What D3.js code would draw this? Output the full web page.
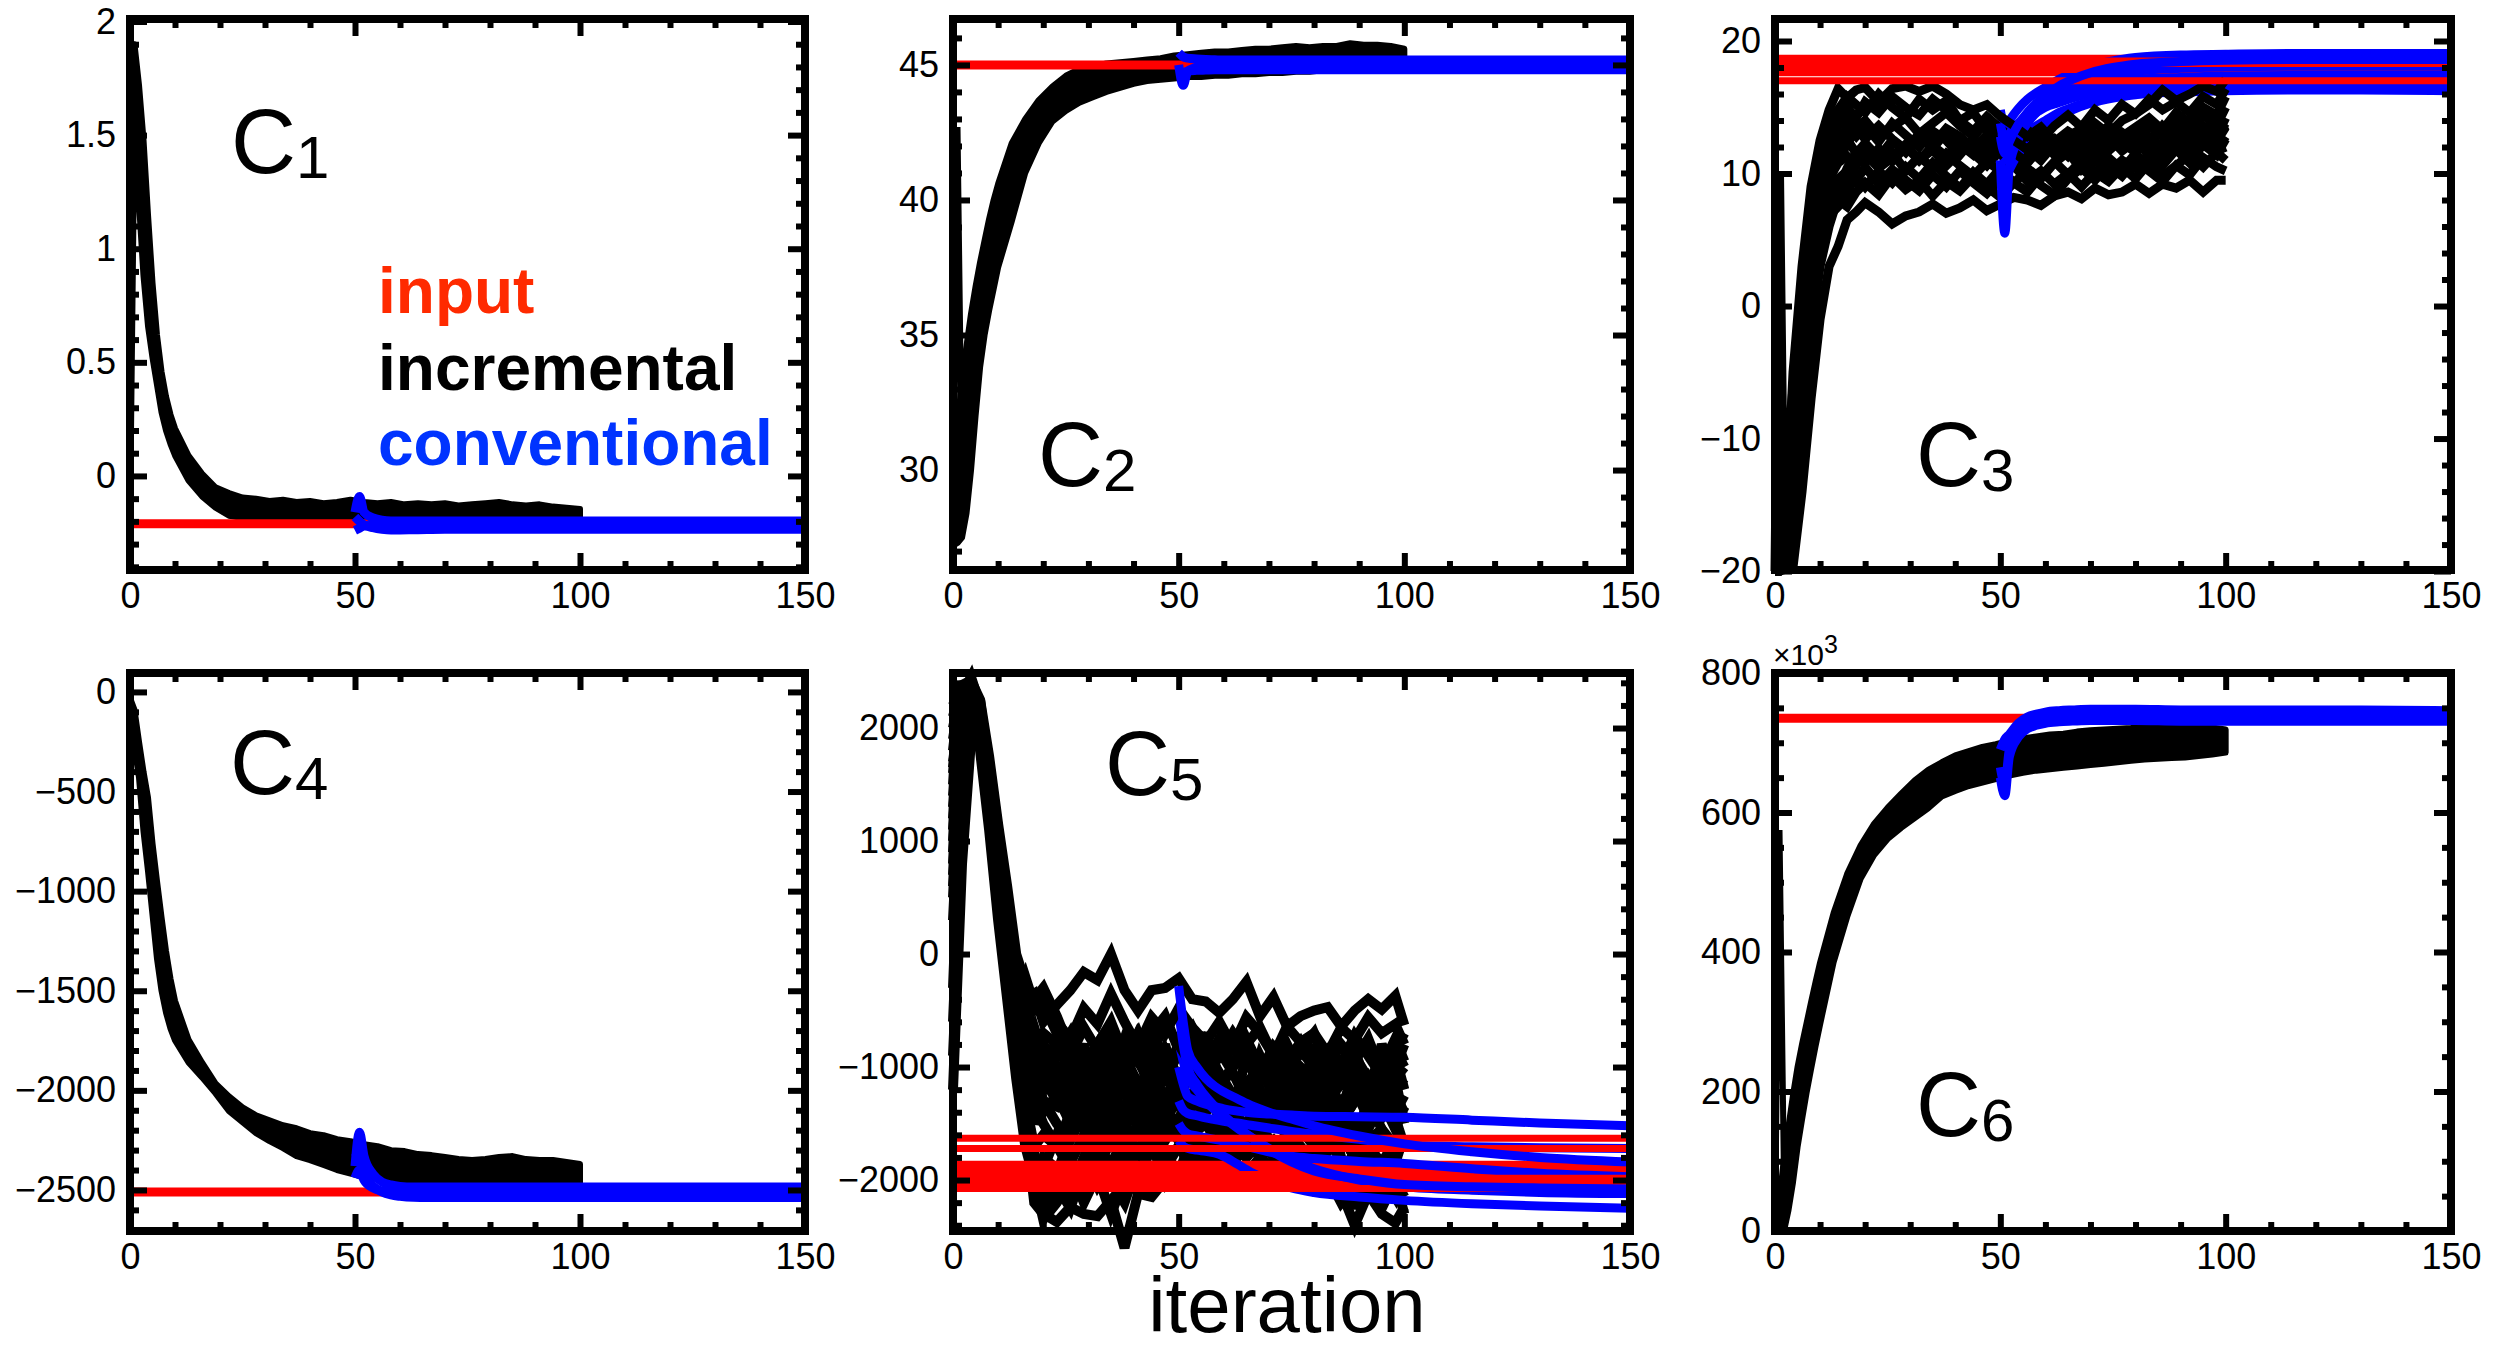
<!DOCTYPE html>
<html>
<head>
<meta charset="utf-8">
<script src="https://cdn.jsdelivr.net/npm/d3@7"></script>
<style>
  html, body { margin: 0; padding: 0; background: #fff; }
  svg { display: block; font-family: "Liberation Sans", Arial, Helvetica, sans-serif; }
</style>
</head>
<body>
<svg id="chart" width="2512" height="1350"></svg>
<script>
// ---------------- shared iteration grids ----------------
const ITER_BAND = [0,1,2,3,4,5,6,7,8,9,10,13,16,19,22,25,28,31,34,37,40,43,46,49,52,55,58,61,64,67,70,73,76,79,82,85,88,91,94,97,100];
const ITER_RUN  = [0,1,2,4,6,8,10,12,14,16,18,20,23,26,29,32,35,38,41,44,47,50,53,56,59,62,65,68,71,74,77,80,83,86,89,92,95,98,100];
const ITER_CONV = [50,51,52,54,56,58,60,63,66,70,75,80,90,100,115,130,150];
const ITER_START = [0,1,2];

const X_TICKS = [0,50,100,150];

// ---------------- C1 ----------------
const C1_INPUT = [-0.21];
const C1_INC_HI = [1.75,1.9,1.72,1.48,1.15,0.85,0.62,0.46,0.35,0.27,0.21,0.09,0.01,-0.05,-0.075,-0.095,-0.1,-0.11,-0.105,-0.115,-0.11,-0.12,-0.115,-0.105,-0.115,-0.12,-0.115,-0.125,-0.12,-0.125,-0.12,-0.13,-0.125,-0.12,-0.115,-0.125,-0.13,-0.125,-0.135,-0.14,-0.145];
const C1_INC_LO = [-0.2,1.55,1.2,0.88,0.66,0.52,0.4,0.28,0.2,0.14,0.09,-0.02,-0.09,-0.14,-0.175,-0.185,-0.19,-0.19,-0.195,-0.19,-0.19,-0.195,-0.19,-0.19,-0.195,-0.19,-0.19,-0.195,-0.19,-0.19,-0.19,-0.195,-0.19,-0.19,-0.19,-0.19,-0.195,-0.19,-0.19,-0.19,-0.185];
const C1_CONV = [
  [-0.16,-0.09,-0.16,-0.185,-0.195,-0.198,-0.198,-0.198,-0.198,-0.198,-0.198,-0.198,-0.198,-0.198,-0.198,-0.198,-0.198],
  [-0.18,-0.2,-0.215,-0.228,-0.235,-0.238,-0.238,-0.237,-0.236,-0.235,-0.235,-0.235,-0.235,-0.235,-0.235,-0.235,-0.235],
  [-0.24,-0.23,-0.22,-0.218,-0.216,-0.215,-0.215,-0.215,-0.215,-0.215,-0.215,-0.215,-0.215,-0.215,-0.215,-0.215,-0.215]
];
const C1_Y_TICKS = [0,0.5,1,1.5,2];

// ---------------- C2 ----------------
const C2_INPUT = [45.0];
const C2_START = [27.4,42.7,29.5];
const C2_INC_HI = [27.8,31.5,33.5,34.6,35.8,36.8,37.7,38.5,39.3,40.0,40.6,42.1,43.0,43.7,44.2,44.6,44.85,44.95,45.05,45.1,45.15,45.2,45.25,45.35,45.4,45.45,45.5,45.5,45.55,45.6,45.6,45.65,45.7,45.65,45.7,45.7,45.8,45.75,45.75,45.7,45.6];
const C2_INC_LO = [27.2,27.3,27.5,28.4,30.0,32.0,33.8,35.0,35.9,36.7,37.5,39.2,41.0,42.1,42.9,43.3,43.6,43.8,44.0,44.15,44.3,44.4,44.45,44.5,44.55,44.55,44.6,44.6,44.65,44.65,44.7,44.7,44.75,44.75,44.8,44.8,44.85,44.85,44.85,44.9,44.9];
const C2_CONV = [
  [45.45,45.3,45.25,45.22,45.2,45.19,45.18,45.18,45.18,45.18,45.18,45.18,45.18,45.18,45.18,45.18,45.18],
  [45.0,44.25,44.75,44.92,44.98,45.0,45.0,45.0,45.0,45.0,45.0,45.0,45.0,45.0,45.0,45.0,45.0],
  [44.6,44.7,44.78,44.8,44.81,44.82,44.82,44.82,44.82,44.82,44.82,44.82,44.82,44.82,44.82,44.82,44.82]
];
const C2_Y_TICKS = [30,35,40,45];

// ---------------- C3 ----------------
const C3_INPUT = [18.7,18.1,17.6,18.5,17.85,18.3,17.0];
const C3_RUNS = [
  [-20,-20,-19.8,-17,-9,-2,3,6,8.2,9.5,10.8,11.5,10.4,11.2,12.2,11.0,11.8,10.6,11.6,12.4,11.3,12.0,10.8,11.6,12.5,11.4,12.2,11.0,12.0,12.8,11.7,12.5,11.4,12.3,13.1,12.1,13.0,12.4,13.5],
  [-20,-19.9,-18.8,-12,-4,3,7,9.5,11,12.2,13.4,12.6,13.6,12.6,11.8,13.0,12.2,13.4,12.8,11.9,12.9,12.2,13.3,12.4,11.5,12.6,11.8,12.9,12.1,13.2,12.3,11.6,12.8,12.0,13.2,12.5,13.5,12.9,13.8],
  [-20,-20,-19.9,-19.7,-14,-7,-1,3,4.5,6.5,7.1,7.8,7.1,6.2,6.8,7.1,7.7,7.0,7.4,8.0,7.2,7.7,8.2,8.0,7.6,8.3,8.6,8.1,8.9,8.4,8.6,9.2,8.5,9.2,8.9,9.5,8.6,9.5,9.5],
  [-20,-20,-19.5,-13,-4,3,7,8.8,8.0,7.5,8.6,9.3,8.4,9.8,8.8,9.5,8.3,9.4,8.7,9.8,9.0,8.2,9.3,10.2,9.1,8.4,9.6,10.4,9.5,10.6,9.8,11.0,10.2,9.4,10.6,9.9,11.2,10.5,10.2],
  [-20,-20,-19.6,-14,-5,2,6,8.4,9.6,10.2,9.4,10.5,9.2,10.3,9.5,8.7,9.9,9.0,10.2,9.3,8.5,9.6,10.6,9.4,10.2,9.2,10.0,9.0,10.1,9.4,10.5,9.6,10.8,9.8,10.6,11.4,10.5,11.6,11.0],
  [-20,-20,-19.8,-16,-8,-1,4,6.8,7.5,8.6,9.8,9.0,10.2,9.3,10.5,9.6,10.8,9.8,8.9,10.1,9.2,10.4,9.3,8.6,9.8,10.9,9.9,11.0,10.0,11.2,10.3,11.5,10.4,11.6,12.4,11.3,12.5,11.8,12.8],
  [-20,-19.9,-19,-12,-3,4,7.5,9.6,10.8,11.3,10.6,11.8,10.5,11.6,10.2,11.3,10.4,11.5,10.6,9.8,10.9,10.2,11.3,10.4,9.6,10.8,11.6,10.3,11.2,10.1,11.0,10.4,11.5,10.6,11.8,10.8,12.2,11.4,12.6],
  [-20,-20,-19.7,-15,-6,1,5,7.5,8.8,10.4,11.6,10.8,11.9,10.9,12.0,11.0,12.1,11.3,12.4,11.5,10.6,11.7,10.8,11.9,11.0,12.2,11.3,12.4,11.5,12.7,11.8,12.9,12.0,11.2,12.3,11.4,12.6,11.7,12.0],
  [-20,-19.8,-18,-9,-1,6,9.5,11.2,12.4,13.5,12.8,13.6,12.4,13.8,12.9,12.0,13.2,12.5,11.4,12.6,11.8,12.8,11.6,10.8,11.9,12.6,11.5,12.2,10.9,11.8,12.7,11.6,12.4,13.2,12.0,12.9,13.6,12.8,14.2],
  [-20,-19.7,-17.5,-10,-2,5,8.5,10.2,11.8,12.6,11.5,12.3,11.2,12.5,11.6,12.8,11.9,13.1,12.2,11.4,12.5,11.5,12.6,11.8,12.9,12.0,12.8,11.6,12.5,11.7,12.6,13.4,12.3,13.6,12.7,13.9,13.0,14.1,13.2],
  [-20,-19.5,-16,-6,2,8.5,11.5,13.5,14.8,15.8,15.2,14.6,16.0,15.0,14.2,15.6,14.8,15.5,14.0,14.6,13.2,12.6,12.0,13.0,12.2,11.6,12.8,13.4,12.6,13.6,12.8,13.5,14.2,13.3,14.6,13.8,15.0,14.4,15.8],
  [-20,-19.8,-17,-8,0,6.5,10,12.2,13.6,14.2,13.4,14.0,12.8,13.5,14.2,13.0,13.8,14.6,13.6,12.8,13.9,13.2,12.4,13.3,12.5,13.6,14.4,13.5,14.8,14.0,15.2,14.5,15.6,14.8,15.4,14.6,15.8,15.2,16.4],
  [-20,-19.9,-18.5,-11,-3,4.5,9,12.0,14.2,15.0,14.2,15.4,14.6,15.8,15.0,14.4,15.6,14.8,14.0,13.2,14.3,13.4,12.5,11.8,12.7,11.9,12.9,12.1,13.0,12.2,13.1,12.4,13.6,12.8,13.9,13.2,14.4,13.6,15.0],
  [-20,10,-19,-5,3,9,12.5,14.8,16.4,15.7,16.3,16.5,15.4,16.4,16.6,16.2,16.6,16.0,15.2,14.8,15.2,14.3,13.6,12.8,13.5,12.4,13.2,12.6,13.8,13.0,14.0,14.5,15.2,16.3,15.5,16.0,16.6,16.2,17.1]
];
const C3_CONV = [
  [10.8,9.5,10.3,11.5,12.4,13.1,13.6,14.3,14.8,15.3,15.7,15.95,16.2,16.35,16.4,16.4,16.4],
  [12.2,11.0,11.8,12.6,13.2,13.6,14.0,14.6,15.0,15.4,15.8,16.0,16.15,16.25,16.3,16.3,16.25],
  [14.8,13.5,14.0,14.9,15.6,16.1,16.5,17.1,17.6,18.1,18.5,18.75,18.95,19.0,19.05,19.05,19.05],
  [13.5,12.5,13.0,13.6,14.2,14.6,15.0,15.35,15.7,16.0,16.35,16.55,16.7,16.8,16.8,16.8,16.8],
  [11.0,5.5,10.5,12.6,13.8,14.6,15.3,16.0,16.5,17.0,17.4,17.7,17.95,18.05,18.1,18.1,18.1],
  [13.8,12.5,13.0,13.8,14.4,14.9,15.3,15.8,16.2,16.6,16.95,17.1,17.25,17.35,17.4,17.4,17.4],
  [12.8,11.5,12.4,13.7,14.6,15.3,15.9,16.6,17.1,17.6,18.0,18.25,18.45,18.55,18.6,18.6,18.6]
];
const C3_Y_TICKS = [-20,-10,0,10,20];

// ---------------- C4 ----------------
const C4_INPUT = [-2510];
const C4_INC_HI = [-30,-90,-250,-400,-530,-760,-950,-1130,-1300,-1440,-1550,-1745,-1860,-1965,-2030,-2085,-2125,-2150,-2175,-2190,-2215,-2225,-2245,-2255,-2270,-2280,-2300,-2305,-2320,-2325,-2335,-2345,-2350,-2345,-2335,-2330,-2345,-2350,-2350,-2360,-2370];
const C4_INC_LO = [-150,-280,-430,-700,-900,-1120,-1340,-1500,-1610,-1690,-1750,-1860,-1935,-2015,-2105,-2160,-2215,-2255,-2290,-2330,-2350,-2375,-2400,-2418,-2435,-2445,-2450,-2452,-2455,-2457,-2460,-2462,-2463,-2465,-2466,-2466,-2467,-2467,-2468,-2468,-2468];
const C4_CONV = [
  [-2380,-2210,-2330,-2420,-2460,-2475,-2482,-2485,-2485,-2485,-2485,-2485,-2485,-2485,-2485,-2485,-2485],
  [-2440,-2400,-2450,-2490,-2505,-2512,-2515,-2515,-2515,-2515,-2515,-2515,-2515,-2515,-2515,-2515,-2515],
  [-2310,-2350,-2420,-2480,-2510,-2525,-2532,-2537,-2538,-2538,-2538,-2538,-2538,-2538,-2538,-2538,-2538]
];
const C4_Y_TICKS = [-2500,-2000,-1500,-1000,-500,0];

// ---------------- C5 ----------------
const C5_INPUT = [-1860,-1890,-1920,-1950,-1985,-2030,-2075,-1630,-1720];
const C5_RUNS = [
  [1900,2150,2320,2400,2150,1600,950,300,-400,-900,-1300,-1500,-1700,-1400,-1250,-1650,-1900,-1550,-1300,-1450,-1750,-1950,-1600,-1400,-1200,-1500,-1800,-1650,-1350,-1550,-1900,-2050,-1700,-1450,-1650,-1300,-1550,-1850,-1600],
  [500,1300,1850,2250,2000,1400,700,0,-650,-1300,-1750,-2200,-1950,-1600,-1400,-1150,-1350,-1700,-1500,-1250,-1050,-1300,-1600,-1850,-1500,-1300,-1600,-1400,-1150,-1000,-1300,-1550,-1350,-1600,-1800,-1550,-1300,-1450,-1700],
  [1100,1850,2150,2330,2100,1550,900,250,-300,-700,-400,-300,-550,-850,-1100,-800,-600,-900,-1150,-1350,-1050,-800,-650,-900,-1200,-1000,-750,-1000,-1250,-1100,-850,-1000,-1300,-1150,-900,-1100,-1300,-1000,-800],
  [-900,0,1100,2100,2100,1450,750,0,-800,-1500,-2100,-1900,-1600,-1800,-2050,-1750,-1550,-1800,-2000,-1700,-1500,-1650,-1900,-1750,-1550,-1700,-1500,-1750,-1650,-1800,-1550,-1700,-1600,-1850,-2100,-1750,-1950,-2150,-1900],
  [1650,2050,2280,2350,2050,1450,800,150,-450,-1000,-1350,-1050,-750,-1000,-1300,-1550,-1250,-900,-700,-1000,-1300,-1150,-850,-1100,-1350,-1550,-1200,-950,-1150,-1400,-1200,-900,-1100,-1350,-1200,-1450,-1150,-900,-1200],
  [700,1500,2000,2280,2000,1400,700,-50,-800,-1500,-2200,-2300,-2050,-2250,-1900,-1750,-2000,-2200,-1850,-1650,-1800,-2000,-1800,-1700,-1850,-1750,-1650,-1800,-1700,-1900,-2000,-1750,-1850,-1950,-1750,-2050,-2250,-2000,-2150],
  [1600,2050,2280,2400,2150,1600,950,300,-350,-800,-650,-900,-1100,-850,-1200,-950,-700,-1050,-900,-1250,-850,-1100,-950,-1200,-850,-1050,-1300,-900,-1150,-800,-1050,-1250,-950,-1100,-850,-1200,-1000,-750,-950],
  [800,1600,2050,2300,2050,1450,800,100,-500,-1000,-1200,-1400,-1250,-1500,-1300,-1550,-1350,-1200,-1450,-1600,-1350,-1550,-1250,-1450,-1600,-1400,-1200,-1450,-1350,-1600,-1400,-1250,-1500,-1350,-1600,-1450,-1300,-1550,-1350],
  [1300,1900,2200,2380,2100,1500,850,200,-400,-900,-1100,-1200,-900,-700,-1000,-800,-1100,-750,-950,-700,-550,-850,-700,-950,-750,-1000,-800,-650,-900,-1100,-850,-700,-1000,-800,-950,-750,-1050,-850,-700],
  [2200,2300,2380,2420,2200,1650,1000,400,-200,-500,-900,-1100,-1300,-1150,-1400,-1200,-1450,-1100,-1300,-1500,-1250,-1100,-1350,-1200,-1450,-1300,-1150,-1350,-1500,-1250,-1400,-1150,-1300,-1450,-1200,-1350,-1150,-1400,-1250],
  [-1200,-200,800,1900,2250,1600,900,200,-500,-1100,-1500,-1300,-1350,-1100,-800,-1200,-700,-1000,-1400,-1100,-800,-1300,-1000,-700,-1100,-1400,-900,-1200,-1500,-1000,-1300,-800,-1150,-1400,-1000,-1250,-800,-1100,-1500],
  [-600,300,1300,2200,2000,1300,600,-200,-1000,-1600,-2000,-2350,-2200,-2000,-2150,-1800,-2000,-1700,-1900,-2100,-1850,-1700,-1900,-1750,-1650,-1850,-1700,-1600,-1800,-1650,-1850,-1700,-1950,-1800,-2250,-1900,-2100,-2000,-2300],
  [2000,2200,2350,2400,1900,1200,400,-300,-900,-1400,-1900,-2300,-2370,-2240,-2300,-2320,-2180,-2600,-2120,-2150,-2000,-1970,-2030,-1950,-1990,-1900,-1920,-1880,-1940,-1900,-1880,-1860,-1900,-2100,-2400,-2120,-2300,-2380,-2240],
  [-300,700,1500,2250,1950,1350,650,-50,-700,-1400,-1800,-2000,-2100,-1900,-2200,-1950,-2300,-2000,-2100,-1900,-2050,-1950,-2030,-1950,-1970,-1940,-1930,-1910,-1950,-1940,-1900,-1880,-1970,-2200,-2050,-2120,-2000,-2150,-2050],
  [1700,2000,2250,2300,1800,1100,300,-400,-1100,-1700,-2000,-1800,-1900,-2100,-1800,-2050,-1850,-2000,-1750,-1950,-1800,-1950,-1850,-2000,-1900,-1850,-1950,-1800,-1900,-1850,-1950,-1800,-1900,-2000,-1850,-1950,-1850,-2000,-1900],
  [300,1100,1700,2150,1850,1200,500,-200,-800,-1300,-1700,-1600,-1700,-1850,-1600,-1900,-1650,-1800,-1550,-1750,-1900,-1700,-1800,-1650,-1850,-1700,-1800,-1650,-1750,-1900,-1700,-1850,-1750,-1600,-1800,-1700,-1850,-1650,-1750],
  [1800,2150,2300,2380,2150,1650,1000,350,-250,-700,-1000,-1300,-1500,-1650,-1400,-1700,-1450,-1600,-1750,-1500,-1650,-1450,-1600,-1500,-1700,-1550,-1650,-1500,-1700,-1600,-1450,-1650,-1550,-1700,-1500,-1650,-1550,-1700,-1600],
  [600,1400,1900,2200,1900,1300,600,-100,-700,-1200,-1000,-800,-1000,-1400,-1550,-1300,-1600,-1350,-1500,-1250,-1450,-1300,-1500,-1400,-1250,-1450,-1350,-1550,-1300,-1450,-1350,-1500,-1400,-1300,-1550,-1350,-1450,-1300,-1450],
  [1400,1950,2200,2350,2050,1450,750,50,-550,-1000,-1300,-1100,-1050,-1300,-1100,-1400,-1200,-1450,-1150,-1300,-1450,-1250,-1350,-1150,-1400,-1250,-1350,-1200,-1450,-1300,-1150,-1400,-1250,-1500,-1300,-1150,-1350,-1250,-1400],
  [900,1700,2100,2300,2000,1400,700,0,-600,-900,-700,-1000,-1200,-950,-1250,-1000,-1300,-1050,-1150,-1350,-1000,-1200,-1100,-1300,-1050,-1250,-1150,-1000,-1250,-1100,-1300,-1150,-1250,-1050,-1300,-1100,-1350,-1200,-1100],
  [1000,1800,2150,2300,2100,1550,900,250,-300,-600,-800,-700,-800,-1050,-900,-1150,-880,-1000,-1200,-950,-1100,-880,-1050,-900,-1150,-1000,-900,-1100,-980,-1200,-1000,-1120,-950,-1150,-1050,-1250,-980,-1100,-1000],
  [2100,2250,2350,2420,2250,1750,1150,600,0,-250,-500,-450,-700,-900,-650,-850,-720,-950,-700,-880,-620,-800,-1000,-760,-900,-700,-880,-1050,-820,-950,-780,-1000,-850,-980,-720,-900,-1080,-850,-1000],
  [1200,1900,2200,2350,2100,1500,800,100,-400,-200,-450,-400,-600,-750,-480,-620,-350,-600,-820,-560,-700,-480,-650,-780,-600,-820,-560,-700,-900,-640,-780,-700,-880,-650,-760,-560,-700,-620,-800],
  [1500,2100,2300,2450,2200,1700,1100,500,-150,-400,-350,-600,-450,-320,-160,-230,0,-320,-500,-320,-300,-215,-400,-420,-520,-400,-245,-550,-380,-640,-550,-500,-470,-640,-500,-400,-490,-370,-630]
];
const C5_CONV = [
  [-1650,-1700,-1720,-1735,-1745,-1760,-1790,-1860,-1930,-2000,-2070,-2110,-2150,-2180,-2210,-2230,-2250],
  [-1500,-1560,-1590,-1610,-1625,-1640,-1655,-1680,-1710,-1750,-1790,-1810,-1835,-1853,-1900,-1940,-1970],
  [-1300,-1380,-1410,-1430,-1450,-1465,-1480,-1495,-1515,-1540,-1570,-1595,-1640,-1690,-1705,-1715,-1720],
  [-760,-950,-1085,-1200,-1300,-1380,-1450,-1540,-1620,-1720,-1820,-1900,-2000,-2060,-2090,-2110,-2120],
  [-500,-800,-1000,-1150,-1260,-1350,-1430,-1530,-1620,-1730,-1840,-1920,-1990,-2040,-2060,-2070,-2080],
  [-1000,-1150,-1260,-1300,-1330,-1350,-1370,-1390,-1405,-1415,-1425,-1435,-1440,-1445,-1470,-1495,-1520],
  [-283,-600,-850,-1000,-1100,-1170,-1220,-1280,-1340,-1400,-1460,-1520,-1610,-1680,-1750,-1800,-1840]
];
const C5_Y_TICKS = [-2000,-1000,0,1000,2000];

// ---------------- C6 (values in thousands) ----------------
const C6_INPUT = [735];
const C6_START = [0,575,70];
const C6_INC_HI = [0,45,105,150,195,235,268,298,328,357,385,456,512,553,584,607,627,646,661,672,682,688,694,698,703,706,709,712,713,716,718,719,720,721,723,722,724,722,723,722,719];
const C6_INC_LO = [0,0,0,30,70,120,160,198,232,265,296,385,450,505,539,562,578,592,606,623,631,638,643,648,653,657,660,662,664,666,668,670,672,674,676,677,678,679,681,683,686];
const C6_CONV = [
  [690,705,712,728,737,741,744,746,747,748,748,748,747,747,747,747,746],
  [665,640,690,715,728,733,736,738,739,740,740,740,740,740,740,739,739],
  [650,624,680,708,720,725,728,730,731,732,732,732,731,731,731,731,731]
];
const C6_Y_TICKS = [0,200,400,600,800];

// ---------------- legend & labels ----------------
const LEGEND_LABELS = ["input", "incremental", "conventional"];
const AXIS_TITLE = "iteration";

// ---------------- layout ----------------
const COLS = [[130, 805], [953, 1630], [1775, 2451]];
const ROWS = [[19, 570], [673, 1231]];
const RED = "#ff0000", BLUE = "#0000ff", BLACK = "#000000";

const panels = [
  { sub: "1", col: 0, row: 0, domain: [-0.414, 2.011], ticks: C1_Y_TICKS, minor: 0.1,
    input: C1_INPUT, band: [C1_INC_LO, C1_INC_HI], conv: C1_CONV, label: [101, 154] },
  { sub: "2", col: 1, row: 0, domain: [26.3, 46.7], ticks: C2_Y_TICKS, minor: 1,
    input: C2_INPUT, band: [C2_INC_LO, C2_INC_HI], start: C2_START, conv: C2_CONV, label: [85, 467] },
  { sub: "3", col: 2, row: 0, domain: [-19.92, 21.66], ticks: C3_Y_TICKS, minor: 2,
    input: C3_INPUT, runs: C3_RUNS, conv: C3_CONV, runWidth: 9, label: [141, 467] },
  { sub: "4", col: 0, row: 1, domain: [-2706, 95], ticks: C4_Y_TICKS, minor: 100,
    input: C4_INPUT, band: [C4_INC_LO, C4_INC_HI], conv: C4_CONV, label: [100, 121] },
  { sub: "5", col: 1, row: 1, domain: [-2451, 2487], ticks: C5_Y_TICKS, minor: 200,
    input: C5_INPUT, runs: C5_RUNS, conv: C5_CONV, runWidth: 10, label: [152, 122] },
  { sub: "6", col: 2, row: 1, domain: [0, 800], ticks: C6_Y_TICKS, minor: 50,
    input: C6_INPUT, band: [C6_INC_LO, C6_INC_HI], start: C6_START, conv: C6_CONV, label: [141, 463],
    exponent: "3" }
];

const svg = d3.select("#chart");
svg.append("rect").attr("width", 2512).attr("height", 1350).attr("fill", "#fff");

function minorValues(d0, d1, step, majors) {
  const out = [];
  const k0 = Math.ceil(Math.min(d0, d1) / step - 1e-9), k1 = Math.floor(Math.max(d0, d1) / step + 1e-9);
  for (let k = k0; k <= k1; k++) {
    const v = +(k * step).toFixed(6);
    if (!majors.some(m => Math.abs(m - v) < step / 10)) out.push(v);
  }
  return out;
}

function drawPanel(p) {
  const [x0, x1] = COLS[p.col], [y0, y1] = ROWS[p.row];
  const x = d3.scaleLinear().domain([0, 150]).range([x0, x1]);
  const y = d3.scaleLinear().domain(p.domain).range([y1, y0]);
  const g = svg.append("g");

  const runLine = d3.line().x((d, i) => x(ITER_RUN[i])).y(d => y(d));
  const convLine = d3.line().curve(d3.curveMonotoneX).x((d, i) => x(ITER_CONV[i])).y(d => y(d));
  const startLine = d3.line().x((d, i) => x(ITER_START[i])).y(d => y(d));
  const inputLine = d3.line().x(d => x(d[0])).y(d => y(d[1]));

  const drawInput = (v, w) => g.append("path").datum([[0, v], [150, v]]).attr("d", inputLine)
      .attr("fill", "none").attr("stroke", RED).attr("stroke-width", w);
  const drawConv = (arr, w) => g.append("path").datum(arr).attr("d", convLine)
      .attr("fill", "none").attr("stroke", BLUE).attr("stroke-width", w).attr("stroke-linejoin", "round");

  if (p.band) {
    // incremental ensemble: spread between lowest and highest run
    const pts = ITER_BAND.map((it, i) => ({ it, lo: p.band[0][i], hi: p.band[1][i] }));
    const area = d3.area().x(d => x(d.it)).y0(d => y(d.lo)).y1(d => y(d.hi));
    g.append("path").datum(pts).attr("d", area)
      .attr("fill", BLACK).attr("stroke", BLACK).attr("stroke-width", 6).attr("stroke-linejoin", "round");
    if (p.start) {
      g.append("path").datum(p.start).attr("d", startLine)
        .attr("fill", "none").attr("stroke", BLACK).attr("stroke-width", 6).attr("stroke-linejoin", "miter");
    }
    p.input.forEach(v => drawInput(v, 9));
    p.conv.forEach(c => drawConv(c, 9));
  } else {
    // individual ensemble members, each drawn as incremental / input / conventional
    const n = p.runs.length, nIn = p.input.length, nCv = p.conv.length;
    for (let i = 0; i < n; i++) {
      g.append("path").datum(p.runs[i]).attr("d", runLine)
        .attr("fill", "none").attr("stroke", BLACK).attr("stroke-width", p.runWidth)
        .attr("stroke-linejoin", "miter").attr("stroke-miterlimit", 3);
      const ri = i - (n - nIn);
      if (ri >= 0) drawInput(p.input[ri], 7);
      const ci = i - (n - nCv);
      if (ci >= 0) drawConv(p.conv[ci], 9);
    }
  }

  // frame with inward major/minor ticks on all four sides
  const minX = minorValues(0, 150, 10, X_TICKS);
  const minY = minorValues(p.domain[0], p.domain[1], p.minor, p.ticks);
  const style = sel => {
    sel.select(".domain").remove();
    sel.selectAll(".tick line").attr("stroke", BLACK).attr("stroke-width", 6);
    sel.selectAll(".tick text").attr("fill", BLACK);
    sel.attr("font-size", 36).attr("font-family", "'Liberation Sans', Arial, sans-serif");
  };
  const fmt = d3.format("");
  const B = (gen, tr) => g.append("g").attr("transform", tr).call(gen).call(style);

  B(d3.axisBottom(x).tickValues(minX).tickSize(-9).tickSizeOuter(0).tickFormat(""), `translate(0,${y1})`);
  B(d3.axisBottom(x).tickValues(X_TICKS).tickSize(-17).tickSizeOuter(0).tickPadding(12).tickFormat(fmt), `translate(0,${y1})`);
  B(d3.axisTop(x).tickValues(minX).tickSize(-9).tickSizeOuter(0).tickFormat(""), `translate(0,${y0})`);
  B(d3.axisTop(x).tickValues(X_TICKS).tickSize(-17).tickSizeOuter(0).tickFormat(""), `translate(0,${y0})`);
  B(d3.axisLeft(y).tickValues(minY).tickSize(-9).tickSizeOuter(0).tickFormat(""), `translate(${x0},0)`);
  B(d3.axisLeft(y).tickValues(p.ticks).tickSize(-17).tickSizeOuter(0).tickPadding(14).tickFormat(fmt), `translate(${x0},0)`);
  B(d3.axisRight(y).tickValues(minY).tickSize(-9).tickSizeOuter(0).tickFormat(""), `translate(${x1},0)`);
  B(d3.axisRight(y).tickValues(p.ticks).tickSize(-17).tickSizeOuter(0).tickFormat(""), `translate(${x1},0)`);

  g.append("rect").attr("x", x0).attr("y", y0).attr("width", x1 - x0).attr("height", y1 - y0)
    .attr("fill", "none").attr("stroke", BLACK).attr("stroke-width", 8);

  // panel name C with subscript
  const t = g.append("text").attr("x", x0 + p.label[0]).attr("y", y0 + p.label[1])
    .attr("font-size", 90).attr("fill", BLACK);
  t.append("tspan").text("C");
  t.append("tspan").attr("font-size", 60).attr("dy", 5).text(p.sub);

  if (p.exponent) {
    const e = g.append("text").attr("x", x0 - 2).attr("y", y0 - 8).attr("font-size", 30).attr("fill", BLACK);
    e.append("tspan").text("\u00d710");
    e.append("tspan").attr("font-size", 25).attr("dy", -12).text(p.exponent);
  }
}

panels.forEach(drawPanel);

// legend inside the first panel
const legendColors = ["#ff2a00", "#000000", "#0033ff"];
const legendY = [313, 390, 465];
LEGEND_LABELS.forEach((s, i) => {
  svg.append("text").attr("x", 378).attr("y", legendY[i]).attr("font-size", 64).attr("font-weight", "bold")
    .attr("fill", legendColors[i]).text(s);
});

// shared x-axis title
svg.append("text").attr("x", 1287).attr("y", 1332).attr("text-anchor", "middle")
  .attr("font-size", 78).attr("fill", BLACK).text(AXIS_TITLE);
</script>
</body>
</html>
